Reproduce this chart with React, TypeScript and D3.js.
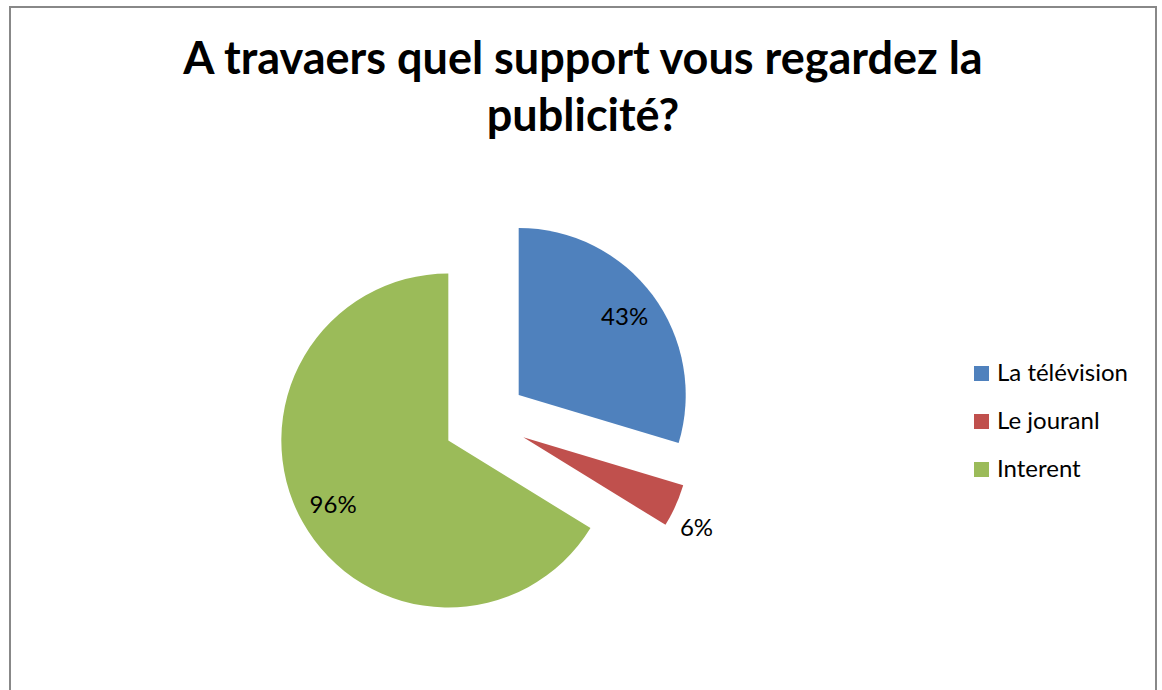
import React from "react";
import * as d3 from "d3";

const categories = ["La télévision", "Le jouranl", "Interent"];
const values = [43, 6, 96];
const labels = ["43%", "6%", "96%"];
const colors = ["#4F81BD", "#C0504D", "#9BBB59"];
const titleLines = ["A travaers quel support vous regardez la", "publicité?"];

const W = 1162;
const H = 690;

export default function App() {
  const cx = 485;
  const cy = 420;
  const r = 167;
  const explode = 42;

  const pie = d3.pie<number>().sort(null).value((d) => d);
  const arcs = pie(values);
  const arc = d3.arc<d3.PieArcDatum<number>>().innerRadius(0).outerRadius(r);
  const total = d3.sum(values);

  return (
    <svg
      width={W}
      height={H}
      style={{ position: "absolute", left: 0, top: 0, background: "#fff" }}
      fontFamily="Lato, 'Open Sans', sans-serif"
    >
      <rect x={0} y={0} width={W} height={H} fill="#fff" />
      <rect x={10} y={7} width={1146} height={700} fill="#fff" stroke="#888" strokeWidth={2} />
      {titleLines.map((t, i) => (
        <text
          key={i}
          x={583}
          y={74 + i * 57}
          textAnchor="middle"
          fontSize={45}
          fontWeight={700}
          fill="#000"
        >
          {t}
        </text>
      ))}
      {arcs.map((a, i) => {
        const mid = (a.startAngle + a.endAngle) / 2;
        const dx = Math.sin(mid);
        const dy = -Math.cos(mid);
        const ox = cx + dx * explode;
        const oy = cy + dy * explode;
        const small = values[i] / total < 0.1;
        const lr = small ? r * 1.17 : r * 0.79;
        const lx = ox + dx * lr + (small ? -5 : 0);
        const ly = oy + dy * lr + (small ? 10 : 0);
        return (
          <g key={i}>
            <path d={arc(a) || ""} transform={`translate(${ox},${oy})`} fill={colors[i]} />
            <text x={lx} y={ly} dy="0.36em" textAnchor="middle" fontSize={24} fill="#000">
              {labels[i]}
            </text>
          </g>
        );
      })}
      {categories.map((c, i) => (
        <g key={c} transform={`translate(974,${366 + i * 48})`}>
          <rect x={0} y={0} width={15} height={15} fill={colors[i]} />
          <text x={23} y={15} fontSize={24} fill="#000">
            {c}
          </text>
        </g>
      ))}
    </svg>
  );
}
